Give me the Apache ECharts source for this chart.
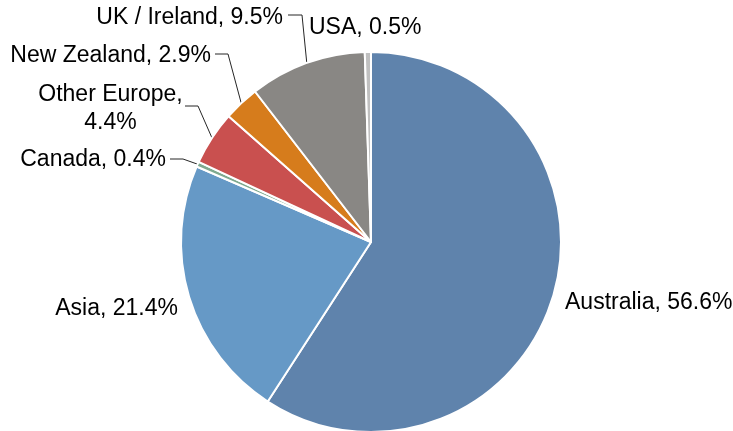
<!DOCTYPE html>
<html>
<head>
<meta charset="utf-8">
<script src="https://cdn.jsdelivr.net/npm/echarts@6/dist/echarts.min.js"></script>
<style>
  html, body { margin: 0; padding: 0; background: #fff; }
  #chart { width: 733px; height: 431px; }
</style>
</head>
<body>
<div id="chart"></div>
<script>
// ---- data ----
const categories = ['Australia', 'Asia', 'Canada', 'Other Europe', 'New Zealand', 'UK / Ireland', 'USA'];
const shares = [56.6, 21.4, 0.4, 4.4, 2.9, 9.5, 0.5];
const twoLineLabels = ['Other Europe'];
const leaderLabels = ['Canada', 'Other Europe', 'New Zealand', 'UK / Ireland'];

// ---- style ----
const sliceColors = ['#5f83ac', '#6699c6', '#7fa98f', '#c9504f', '#d67c1c', '#898784', '#c0c0c0'];
const labelSpots = {
  'Australia':    { x: 565,   y: 303, align: 'left' },
  'Asia':         { x: 178,   y: 309, align: 'right' },
  'Canada':       { x: 166,   y: 160, align: 'right',  elbowX: 183, endX: 170, lineY: 159 },
  'Other Europe': { x: 110.5, y: 109, align: 'center', elbowX: 198, endX: 185, lineY: 106 },
  'New Zealand':  { x: 211,   y: 56,  align: 'right',  elbowX: 228, endX: 215, lineY: 54 },
  'UK / Ireland': { x: 283,   y: 18,  align: 'right',  elbowX: 302, endX: 288, lineY: 15 },
  'USA':          { x: 309,   y: 28,  align: 'left' }
};
const CX = 371, CY = 242, R = 190;

const chart = echarts.init(document.getElementById('chart'), null, { renderer: 'canvas' });

const total = shares.reduce((a, b) => a + b, 0);
function edgePoint(idx) {
  let before = 0;
  for (let i = 0; i < idx; i++) before += shares[i];
  const mid = (before + shares[idx] / 2) / total * Math.PI * 2;
  return [CX + R * Math.sin(mid), CY - R * Math.cos(mid)];
}

const pieData = categories.map((name, i) => ({
  name: name,
  value: shares[i],
  itemStyle: { color: sliceColors[i] },
  labelLine: { show: leaderLabels.indexOf(name) >= 0 }
}));

chart.setOption({
  animation: false,
  backgroundColor: '#ffffff',
  series: [{
    type: 'pie',
    center: [CX, CY],
    radius: R,
    startAngle: 90,
    clockwise: true,
    avoidLabelOverlap: false,
    data: pieData,
    itemStyle: { borderColor: '#ffffff', borderWidth: 2 },
    label: {
      show: true,
      position: 'outside',
      width: 320,
      overflow: 'none',
      fontFamily: 'Liberation Sans, Arial, sans-serif',
      fontSize: 23,
      lineHeight: 28,
      color: '#000000',
      formatter: function (p) {
        const sep = twoLineLabels.indexOf(p.name) >= 0 ? ',\n' : ', ';
        return p.name + sep + p.value.toFixed(1) + '%';
      }
    },
    labelLine: {
      show: true,
      smooth: false,
      length: 10,
      length2: 10,
      lineStyle: { color: '#262626', width: 1 }
    },
    emphasis: { disabled: true },
    labelLayout: function (params) {
      const name = categories[params.dataIndex];
      const s = labelSpots[name];
      const out = { x: s.x, y: s.y, align: s.align, verticalAlign: 'middle' };
      if (s.endX != null) {
        const p0 = (params.labelLinePoints && params.labelLinePoints[0]) || edgePoint(params.dataIndex);
        out.labelLinePoints = [p0, [s.elbowX, s.lineY], [s.endX, s.lineY]];
      }
      return out;
    }
  }]
});
</script>
</body>
</html>
